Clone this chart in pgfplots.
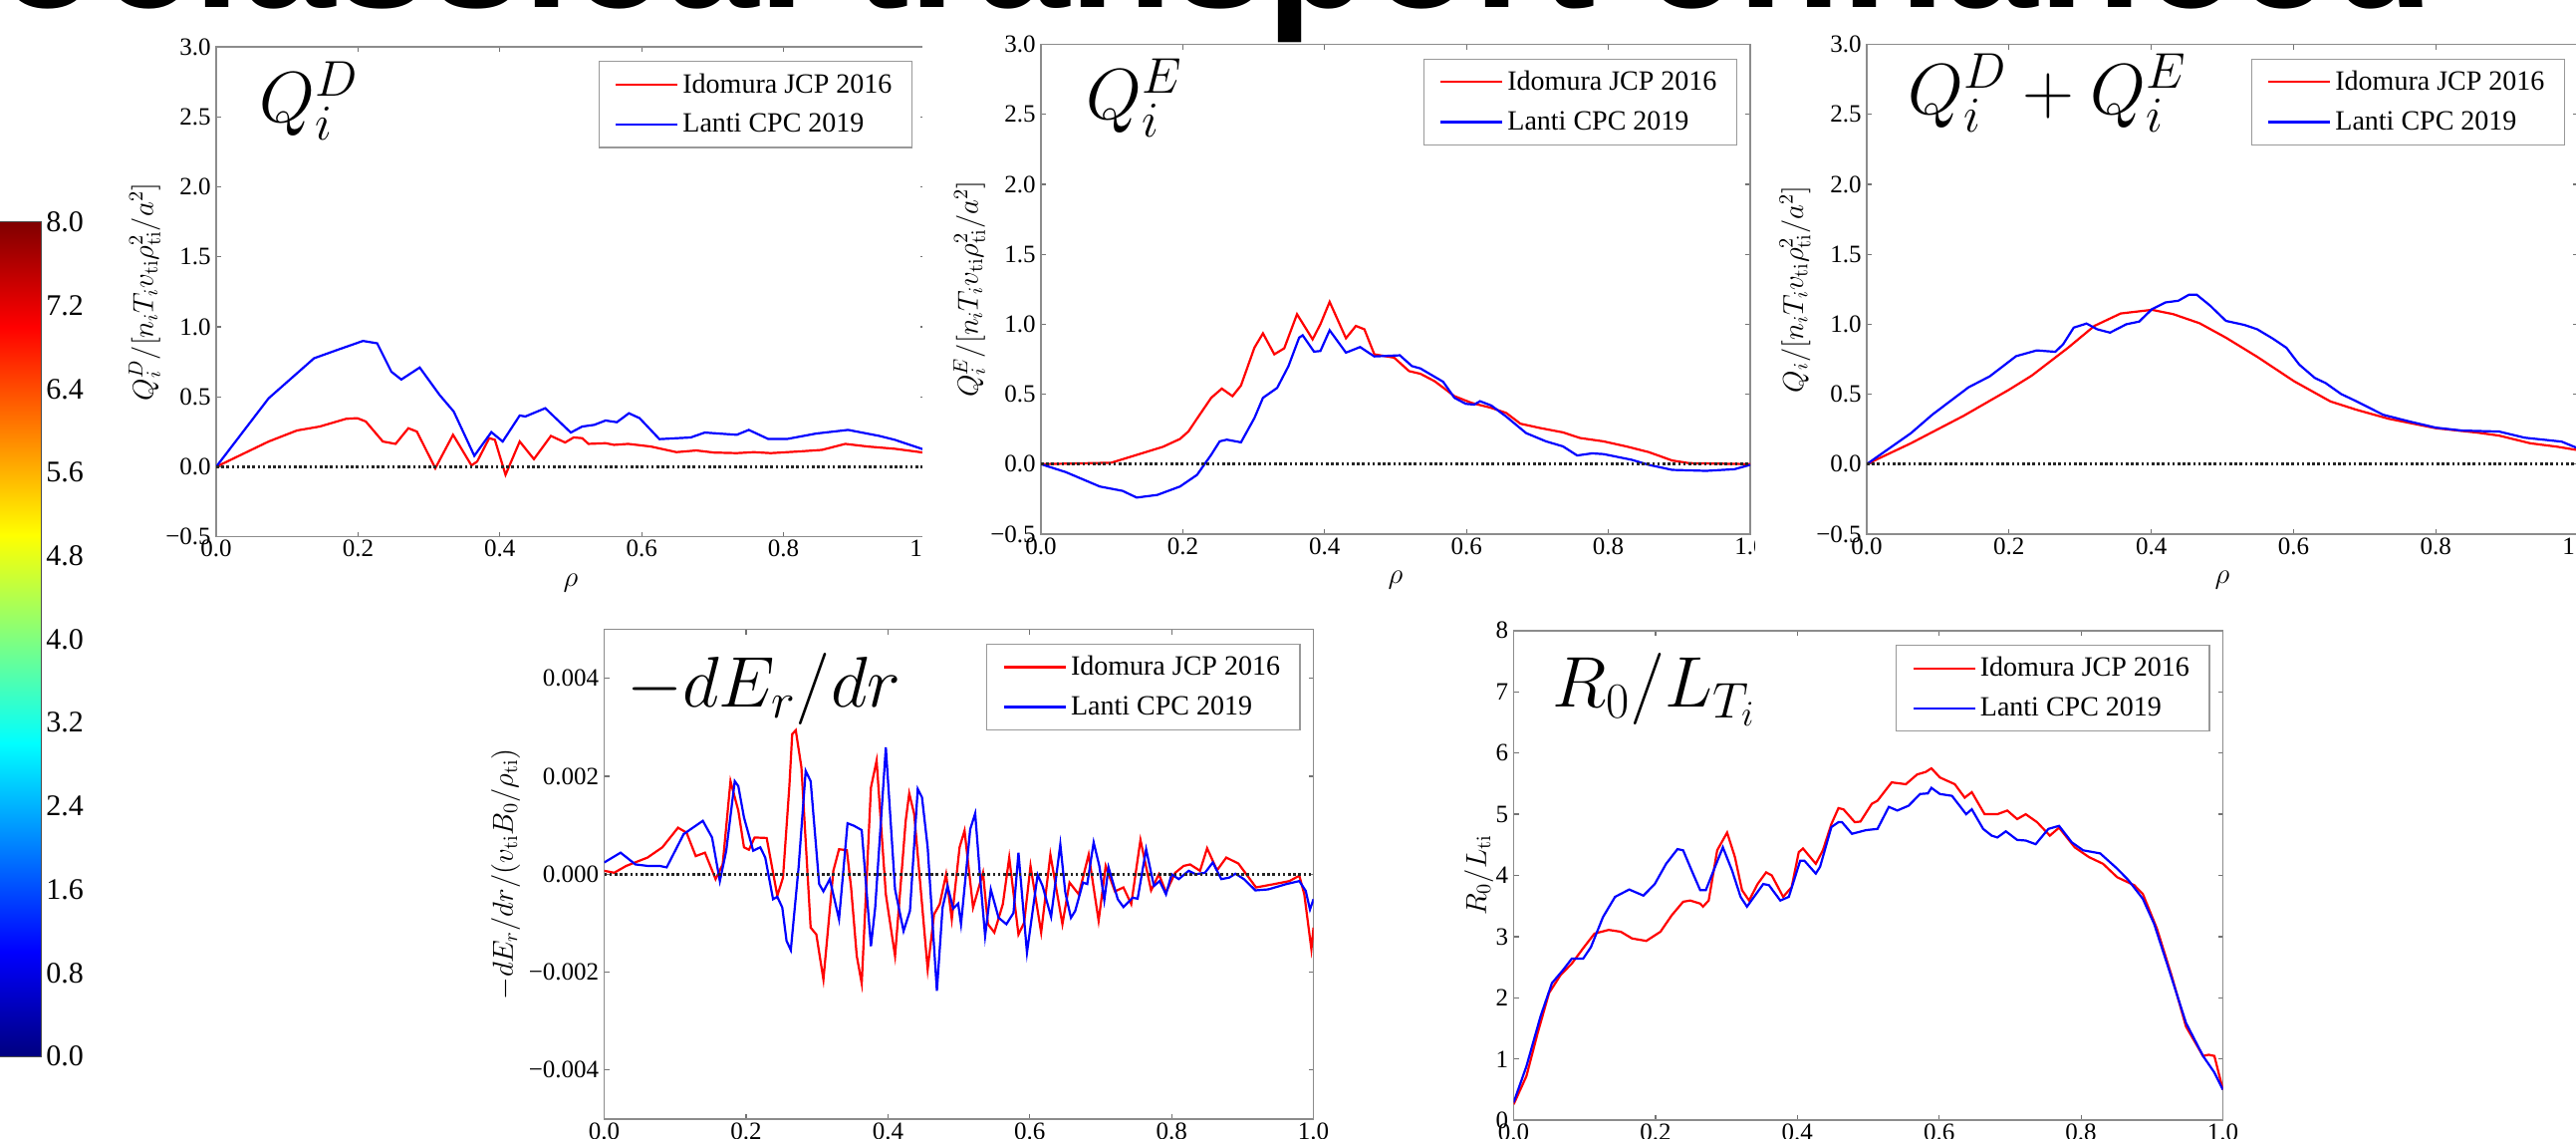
\RequirePackage{fix-cm}
\documentclass[border=0pt]{standalone}
\usepackage[no-math]{fontspec}
\setmainfont{Liberation Serif}
\newfontfamily\titlefont{Liberation Sans}
\usepackage{pgfplots}
\pgfplotsset{compat=1.18}
\usepgfplotslibrary{patchplots}
\newcommand\ticksize{\fontsize{12.5}{12.5}\selectfont}
\newcommand\legsize{\fontsize{14}{14}\selectfont}
\newcommand\labsize{\fontsize{14.5}{14.5}\selectfont}
\newcommand\bigsize{\fontsize{36}{36}\selectfont}
\newcommand\cbsize{\fontsize{15}{15}\selectfont}
\pgfplotsset{
  panel/.style={
    scale only axis, width=356pt, height=245.7pt,
    xmin=0, xmax=1,
    axis line style={black!45, line width=0.8pt},
    tick style={black!55, line width=0.6pt},
    major tick length=2.5pt, tick align=inside,
    xtick={0,0.2,0.4,0.6,0.8,1},
    xticklabels={0.0,0.2,0.4,0.6,0.8,1.0},
    ticklabel style={font=\ticksize},
    xticklabel style={inner sep=0pt, anchor=north, yshift=-1.5pt},
    yticklabel style={inner sep=0pt, anchor=east, xshift=-2.5pt},
    xlabel style={font=\labsize, at={(axis description cs:0.5,-0.094)}, anchor=center},
    ylabel style={font=\labsize, anchor=center},
    scaled ticks=false,
    legend style={at={(1,1)}, anchor=north east, xshift=-6.5pt, yshift=-7pt,
      draw=black!40, line width=0.6pt, fill=white, font=\legsize,
      inner xsep=8pt, inner ysep=4pt, row sep=5pt, cells={anchor=west}},
    legend image code/.code={\draw[##1] (0pt,0pt) -- (20pt,0pt); \path (0pt,0pt) -- (31pt,0pt);},
    legend cell align=left,
  },
  topq/.style={panel, ymin=-0.5, ymax=3,
    ytick={-0.5,0,0.5,1,1.5,2,2.5,3},
    yticklabels={−0.5,0.0,0.5,1.0,1.5,2.0,2.5,3.0},
    xlabel={$\rho$}},
  rl/.style={red, line width=1.1pt},
  bl/.style={blue, line width=1.1pt},
  zl/.style={black!85, line width=1.3pt, dash pattern=on 1.3pt off 1.3pt, forget plot},
}
\begin{document}
\begin{tikzpicture}
\useasboundingbox (0,0) rectangle (1293pt,571.5pt);
\begin{scope}
\clip (0,0) rectangle (1293pt,571.5pt);

% ---------- colorbar
\begin{axis}[at={(-10pt,41.5pt)}, anchor=south west, scale only axis,
  width=30.5pt, height=418.5pt, xmin=0, xmax=1, ymin=0, ymax=8,
  xtick=\empty, ytick={0,0.8,1.6,2.4,3.2,4,4.8,5.6,6.4,7.2,8},
  yticklabels={0.0,0.8,1.6,2.4,3.2,4.0,4.8,5.6,6.4,7.2,8.0},
  ytick pos=right, yticklabel pos=right, tick align=inside, major tick length=3pt,
  tick style={black!70, line width=0.5pt},
  axis line style={black!70, line width=0.6pt},
  yticklabel style={font=\cbsize, inner sep=0pt, anchor=west, xshift=2.5pt},
  colormap/jet, point meta min=0, point meta max=8]
\addplot[patch, patch type=rectangle, shader=interp, point meta=explicit] coordinates {
 (0,0) [0] (1,0) [0] (1,1) [1] (0,1) [1]
 (0,1) [1] (1,1) [1] (1,3) [3] (0,3) [3]
 (0,3) [3] (1,3) [3] (1,5) [5] (0,5) [5]
 (0,5) [5] (1,5) [5] (1,7) [7] (0,7) [7]
 (0,7) [7] (1,7) [7] (1,8) [8] (0,8) [8]
};
\end{axis}

% ---------- panel 1
\begin{axis}[topq, at={(108.5pt,302.15pt)}, anchor=south west,
  ylabel={$Q_i^D/[n_iT_iv_{\mathrm{ti}}\rho_{\mathrm{ti}}^2/a^2]$},
  ylabel style={at={(axis description cs:-0.101,0.5)}}]
\addplot[rl] coordinates {(0,0) (0.074,0.181) (0.114,0.26) (0.146,0.288) (0.183,0.343) (0.199,0.348) (0.211,0.324) (0.235,0.181) (0.253,0.164) (0.271,0.276) (0.283,0.252) (0.309,-0.01) (0.334,0.229) (0.360,0.01) (0.368,0.038) (0.385,0.205) (0.393,0.193) (0.408,-0.057) (0.428,0.181) (0.448,0.055) (0.472,0.221) (0.492,0.174) (0.504,0.21) (0.516,0.205) (0.525,0.164) (0.549,0.169) (0.561,0.157) (0.581,0.164) (0.613,0.145) (0.649,0.105) (0.677,0.117) (0.702,0.102) (0.734,0.098) (0.758,0.105) (0.782,0.098) (0.822,0.11) (0.854,0.121) (0.887,0.164) (0.919,0.145) (0.957,0.129) (1.0,0.10)};
\addlegendentry{Idomura JCP 2016}
\addplot[bl] coordinates {(0,0) (0.074,0.49) (0.138,0.776) (0.171,0.836) (0.207,0.90) (0.227,0.883) (0.247,0.68) (0.261,0.624) (0.287,0.71) (0.315,0.514) (0.335,0.395) (0.364,0.079) (0.388,0.248) (0.404,0.181) (0.428,0.367) (0.436,0.36) (0.464,0.419) (0.500,0.245) (0.516,0.288) (0.533,0.30) (0.549,0.331) (0.565,0.319) (0.582,0.383) (0.597,0.348) (0.625,0.198) (0.669,0.21) (0.689,0.245) (0.734,0.229) (0.751,0.264) (0.778,0.20) (0.806,0.20) (0.846,0.238) (0.891,0.264) (0.935,0.221) (0.957,0.193) (1.0,0.12)};
\addlegendentry{Lanti CPC 2019}
\addplot[zl] coordinates {(0,0) (1,0)};
\end{axis}
\node[anchor=base west, inner sep=0pt, font=\bigsize] at (130pt,510pt) {$Q_i^D$};

\fill[white] (463pt,271pt) rectangle (881pt,580pt);

% ---------- panel 2
\begin{axis}[topq, at={(522.5pt,303.5pt)}, anchor=south west,
  ylabel={$Q_i^E/[n_iT_iv_{\mathrm{ti}}\rho_{\mathrm{ti}}^2/a^2]$},
  ylabel style={at={(axis description cs:-0.101,0.5)}}]
\addplot[rl] coordinates {(0,0) (0.099,0.01) (0.14,0.074) (0.172,0.124) (0.196,0.18) (0.208,0.234) (0.22,0.325) (0.24,0.474) (0.255,0.54) (0.27,0.486) (0.282,0.562) (0.301,0.833) (0.313,0.935) (0.329,0.785) (0.343,0.828) (0.361,1.072) (0.383,0.892) (0.394,1.0) (0.407,1.16) (0.43,0.9) (0.444,0.988) (0.456,0.964) (0.47,0.785) (0.498,0.761) (0.519,0.665) (0.535,0.646) (0.555,0.593) (0.583,0.486) (0.607,0.438) (0.635,0.402) (0.656,0.366) (0.676,0.289) (0.704,0.258) (0.736,0.227) (0.76,0.187) (0.793,0.163) (0.825,0.127) (0.857,0.086) (0.89,0.026) (0.914,0.007) (1,0)};
\addlegendentry{Idomura JCP 2016}
\addplot[bl] coordinates {(0,0) (0.035,-0.057) (0.083,-0.16) (0.115,-0.191) (0.135,-0.239) (0.164,-0.22) (0.196,-0.16) (0.22,-0.077) (0.24,0.067) (0.252,0.163) (0.262,0.175) (0.282,0.156) (0.301,0.33) (0.313,0.474) (0.333,0.545) (0.349,0.701) (0.364,0.904) (0.369,0.921) (0.385,0.804) (0.394,0.809) (0.407,0.957) (0.43,0.797) (0.45,0.837) (0.47,0.77) (0.506,0.778) (0.523,0.701) (0.535,0.684) (0.567,0.589) (0.583,0.474) (0.599,0.431) (0.611,0.426) (0.619,0.45) (0.635,0.419) (0.656,0.34) (0.684,0.222) (0.712,0.163) (0.736,0.127) (0.756,0.062) (0.777,0.077) (0.793,0.072) (0.833,0.031) (0.857,-0.005) (0.89,-0.041) (0.938,-0.048) (0.978,-0.036) (1.0,-0.005)};
\addlegendentry{Lanti CPC 2019}
\addplot[zl] coordinates {(0,0) (1,0)};
\end{axis}
\node[anchor=base west, inner sep=0pt, font=\bigsize] at (545pt,511.5pt) {$Q_i^E$};

\fill[white] (881pt,271pt) rectangle (1300pt,580pt);

% ---------- panel 3
\begin{axis}[topq, at={(937pt,303.5pt)}, anchor=south west, width=357pt,
  ylabel={$Q_i/[n_iT_iv_{\mathrm{ti}}\rho_{\mathrm{ti}}^2/a^2]$},
  ylabel style={at={(axis description cs:-0.101,0.5)}}]
\addplot[rl] coordinates {(0,0) (0.062,0.149) (0.136,0.345) (0.2,0.532) (0.232,0.633) (0.283,0.832) (0.32,0.988) (0.357,1.077) (0.401,1.103) (0.431,1.072) (0.468,1.007) (0.505,0.904) (0.549,0.767) (0.601,0.592) (0.652,0.448) (0.689,0.388) (0.734,0.324) (0.8,0.257) (0.859,0.225) (0.889,0.204) (0.933,0.149) (0.97,0.125) (1.0,0.10)};
\addlegendentry{Idomura JCP 2016}
\addplot[bl] coordinates {(0,0) (0.062,0.221) (0.092,0.353) (0.143,0.549) (0.173,0.628) (0.21,0.772) (0.239,0.813) (0.265,0.803) (0.276,0.856) (0.291,0.976) (0.309,1.005) (0.324,0.964) (0.342,0.94) (0.365,1.0) (0.383,1.019) (0.401,1.108) (0.42,1.156) (0.438,1.168) (0.453,1.211) (0.464,1.211) (0.483,1.132) (0.505,1.024) (0.531,0.995) (0.549,0.964) (0.571,0.897) (0.59,0.832) (0.608,0.712) (0.63,0.616) (0.645,0.58) (0.667,0.501) (0.689,0.448) (0.726,0.353) (0.763,0.305) (0.8,0.261) (0.837,0.24) (0.889,0.233) (0.925,0.189) (0.977,0.161) (1.0,0.113)};
\addlegendentry{Lanti CPC 2019}
\addplot[zl] coordinates {(0,0) (1,0)};
\end{axis}
\node[anchor=base west, inner sep=0pt, font=\bigsize] at (957.5pt,514pt) {$Q_i^D+Q_i^E$};

% ---------- panel 4
\begin{axis}[panel, at={(303.3pt,10pt)}, anchor=south west,
  ymin=-0.005, ymax=0.005,
  ytick={-0.004,-0.002,0,0.002,0.004},
  yticklabels={−0.004,−0.002,0.000,0.002,0.004},
  ylabel={$-dE_r/dr/(v_{\mathrm{ti}}B_0/\rho_{\mathrm{ti}})$},
  ylabel style={at={(axis description cs:-0.139,0.5)}}]
\addplot[rl] coordinates {(0,0.00007) (0.014,0.00003) (0.031,0.00017) (0.061,0.00034) (0.082,0.00055) (0.104,0.00095) (0.116,0.00085) (0.129,0.00037) (0.142,0.00044) (0.157,-0.0001) (0.167,0.0002) (0.178,0.0019) (0.189,0.0013) (0.197,0.00055) (0.204,0.0005) (0.212,0.00075) (0.229,0.00074) (0.244,-0.00044) (0.252,-0.00007) (0.261,0.0018) (0.265,0.00286) (0.27,0.00294) (0.278,0.00218) (0.291,-0.00109) (0.299,-0.00123) (0.309,-0.00215) (0.323,0.00007) (0.331,0.00051) (0.342,0.00049) (0.348,-0.00027) (0.356,-0.00167) (0.363,-0.00223) (0.376,0.00177) (0.384,0.00232) (0.397,-0.00041) (0.41,-0.00167) (0.425,0.00109) (0.43,0.00165) (0.437,0.00123) (0.456,-0.00194) (0.465,-0.00082) (0.473,-0.00061) (0.482,0.0) (0.49,-0.00092) (0.501,0.00055) (0.508,0.00089) (0.52,-0.00068) (0.534,0.00003) (0.541,-0.00102) (0.55,-0.00119) (0.562,-0.00061) (0.571,0.00034) (0.584,-0.00123) (0.592,-0.00099) (0.601,0.00017) (0.616,-0.00119) (0.629,0.0004) (0.646,-0.00102) (0.656,-0.00017) (0.669,-0.00041) (0.683,0.0004) (0.697,-0.00095) (0.707,0.00017) (0.72,-0.00035) (0.732,-0.00027) (0.743,-0.00061) (0.756,0.0007) (0.771,-0.00033) (0.782,0.0) (0.792,-0.00037) (0.805,0.00003) (0.817,0.00017) (0.826,0.0002) (0.84,0.00007) (0.85,0.00053) (0.864,0.00008) (0.877,0.00034) (0.894,0.00022) (0.919,-0.00027) (0.945,-0.0002) (0.966,-0.00014) (0.98,-0.00003) (0.987,-0.00041) (0.997,-0.00153) (1.0,-0.00109)};
\addlegendentry{Idomura JCP 2016}
\addplot[bl] coordinates {(0,0.00024) (0.023,0.00044) (0.044,0.0002) (0.061,0.00017) (0.078,0.00017) (0.088,0.00014) (0.112,0.00082) (0.139,0.00109) (0.152,0.00075) (0.163,-0.00014) (0.172,0.00048) (0.184,0.0019) (0.189,0.0018) (0.197,0.00116) (0.21,0.00048) (0.22,0.00055) (0.227,0.00034) (0.238,-0.00051) (0.244,-0.00046) (0.251,-0.00068) (0.257,-0.00136) (0.263,-0.00155) (0.274,0.00014) (0.284,0.00211) (0.291,0.0019) (0.303,-0.0002) (0.309,-0.00035) (0.318,-0.0001) (0.331,-0.00092) (0.343,0.00104) (0.352,0.00099) (0.363,0.0009) (0.376,-0.00147) (0.382,-0.00068) (0.397,0.00259) (0.41,-0.00031) (0.422,-0.00116) (0.431,-0.00075) (0.442,0.00174) (0.448,0.00157) (0.456,0.00055) (0.469,-0.00238) (0.477,-0.00068) (0.484,-0.00024) (0.492,-0.0007) (0.499,-0.0006) (0.503,-0.00102) (0.516,0.00092) (0.523,0.00124) (0.53,-0.00007) (0.537,-0.00126) (0.545,-0.00031) (0.556,-0.00089) (0.567,-0.00102) (0.577,-0.00079) (0.584,0.00044) (0.596,-0.0016) (0.611,-0.00001) (0.618,-0.00024) (0.63,-0.00087) (0.643,0.00061) (0.65,-0.00037) (0.658,-0.00089) (0.664,-0.00075) (0.675,-0.00017) (0.681,-0.0002) (0.69,0.00065) (0.698,0.00017) (0.705,-0.00053) (0.711,0.00014) (0.724,-0.00051) (0.732,-0.00067) (0.745,-0.00048) (0.752,-0.0005) (0.764,0.00051) (0.775,-0.00024) (0.783,-0.00014) (0.792,-0.00041) (0.8,0.0) (0.81,-0.0001) (0.824,0.00007) (0.834,0.0) (0.847,0.00003) (0.858,0.00024) (0.87,-0.0001) (0.881,-0.00007) (0.89,0.00001) (0.902,-0.0001) (0.918,-0.00033) (0.936,-0.00031) (0.962,-0.0002) (0.98,-0.00014) (0.989,-0.00034) (0.995,-0.00072) (1.0,-0.00051)};
\addlegendentry{Lanti CPC 2019}
\addplot[zl] coordinates {(0,0) (1,0)};
\end{axis}
\node[anchor=base west, inner sep=0pt, font=\bigsize] at (314.5pt,216.5pt) {$-dE_r/dr$};

% ---------- panel 5
\begin{axis}[panel, at={(759.75pt,9.4pt)}, anchor=south west,
  ymin=0, ymax=8, ytick={0,1,2,3,4,5,6,7,8},
  yticklabels={0,1,2,3,4,5,6,7,8},
  ylabel={$R_0/L_{\mathrm{ti}}$},
  ylabel style={at={(axis description cs:-0.049,0.5)}}]
\addplot[rl] coordinates {(0,0.26) (0.018,0.72) (0.034,1.43) (0.05,2.08) (0.066,2.37) (0.082,2.56) (0.098,2.81) (0.114,3.05) (0.134,3.11) (0.151,3.08) (0.167,2.97) (0.187,2.93) (0.207,3.08) (0.223,3.35) (0.239,3.57) (0.249,3.59) (0.263,3.54) (0.267,3.49) (0.275,3.59) (0.287,4.41) (0.301,4.7) (0.312,4.3) (0.322,3.76) (0.332,3.59) (0.344,3.86) (0.356,4.05) (0.364,4.0) (0.38,3.65) (0.392,3.81) (0.402,4.38) (0.408,4.44) (0.426,4.19) (0.436,4.41) (0.448,4.84) (0.458,5.1) (0.465,5.08) (0.481,4.87) (0.489,4.88) (0.505,5.17) (0.513,5.22) (0.533,5.52) (0.553,5.49) (0.569,5.65) (0.581,5.69) (0.589,5.75) (0.601,5.6) (0.622,5.49) (0.636,5.27) (0.646,5.36) (0.664,5.0) (0.682,5.0) (0.696,5.06) (0.71,4.92) (0.722,5.0) (0.738,4.87) (0.756,4.65) (0.769,4.78) (0.791,4.46) (0.811,4.3) (0.831,4.19) (0.851,3.97) (0.875,3.84) (0.887,3.7) (0.907,3.13) (0.928,2.35) (0.948,1.53) (0.972,1.05) (0.98,1.07) (0.988,1.05) (1.0,0.5)};
\addlegendentry{Idomura JCP 2016}
\addplot[bl] coordinates {(0,0.29) (0.018,0.88) (0.038,1.7) (0.054,2.24) (0.07,2.46) (0.082,2.64) (0.098,2.64) (0.109,2.83) (0.126,3.32) (0.143,3.65) (0.163,3.77) (0.183,3.67) (0.199,3.86) (0.215,4.19) (0.231,4.43) (0.239,4.41) (0.251,4.08) (0.263,3.76) (0.271,3.76) (0.295,4.46) (0.308,4.08) (0.32,3.65) (0.329,3.49) (0.352,3.86) (0.36,3.84) (0.376,3.59) (0.388,3.65) (0.404,4.24) (0.41,4.24) (0.426,4.03) (0.432,4.14) (0.448,4.79) (0.458,4.87) (0.463,4.87) (0.477,4.68) (0.497,4.74) (0.513,4.76) (0.529,5.12) (0.541,5.06) (0.557,5.14) (0.573,5.33) (0.584,5.34) (0.589,5.43) (0.601,5.33) (0.618,5.3) (0.638,5.0) (0.646,5.08) (0.662,4.76) (0.674,4.65) (0.682,4.62) (0.694,4.72) (0.71,4.58) (0.722,4.57) (0.736,4.51) (0.754,4.76) (0.769,4.81) (0.787,4.54) (0.803,4.41) (0.827,4.36) (0.851,4.11) (0.867,3.92) (0.887,3.62) (0.903,3.21) (0.924,2.46) (0.948,1.59) (0.972,1.05) (0.988,0.78) (1.0,0.5)};
\addlegendentry{Lanti CPC 2019}
\end{axis}
\node[anchor=base west, inner sep=0pt, font=\bigsize] at (779pt,216.5pt) {$R_0/L_{T_i}$};

% ---------- title (cut by the top edge)
\node[anchor=base west, inner sep=0pt, font=\titlefont\bfseries\fontsize{85}{85}\selectfont] at (-110.6pt,567.5pt) {Neoclassical transport enhanced};
\end{scope}
\end{tikzpicture}
\end{document}
